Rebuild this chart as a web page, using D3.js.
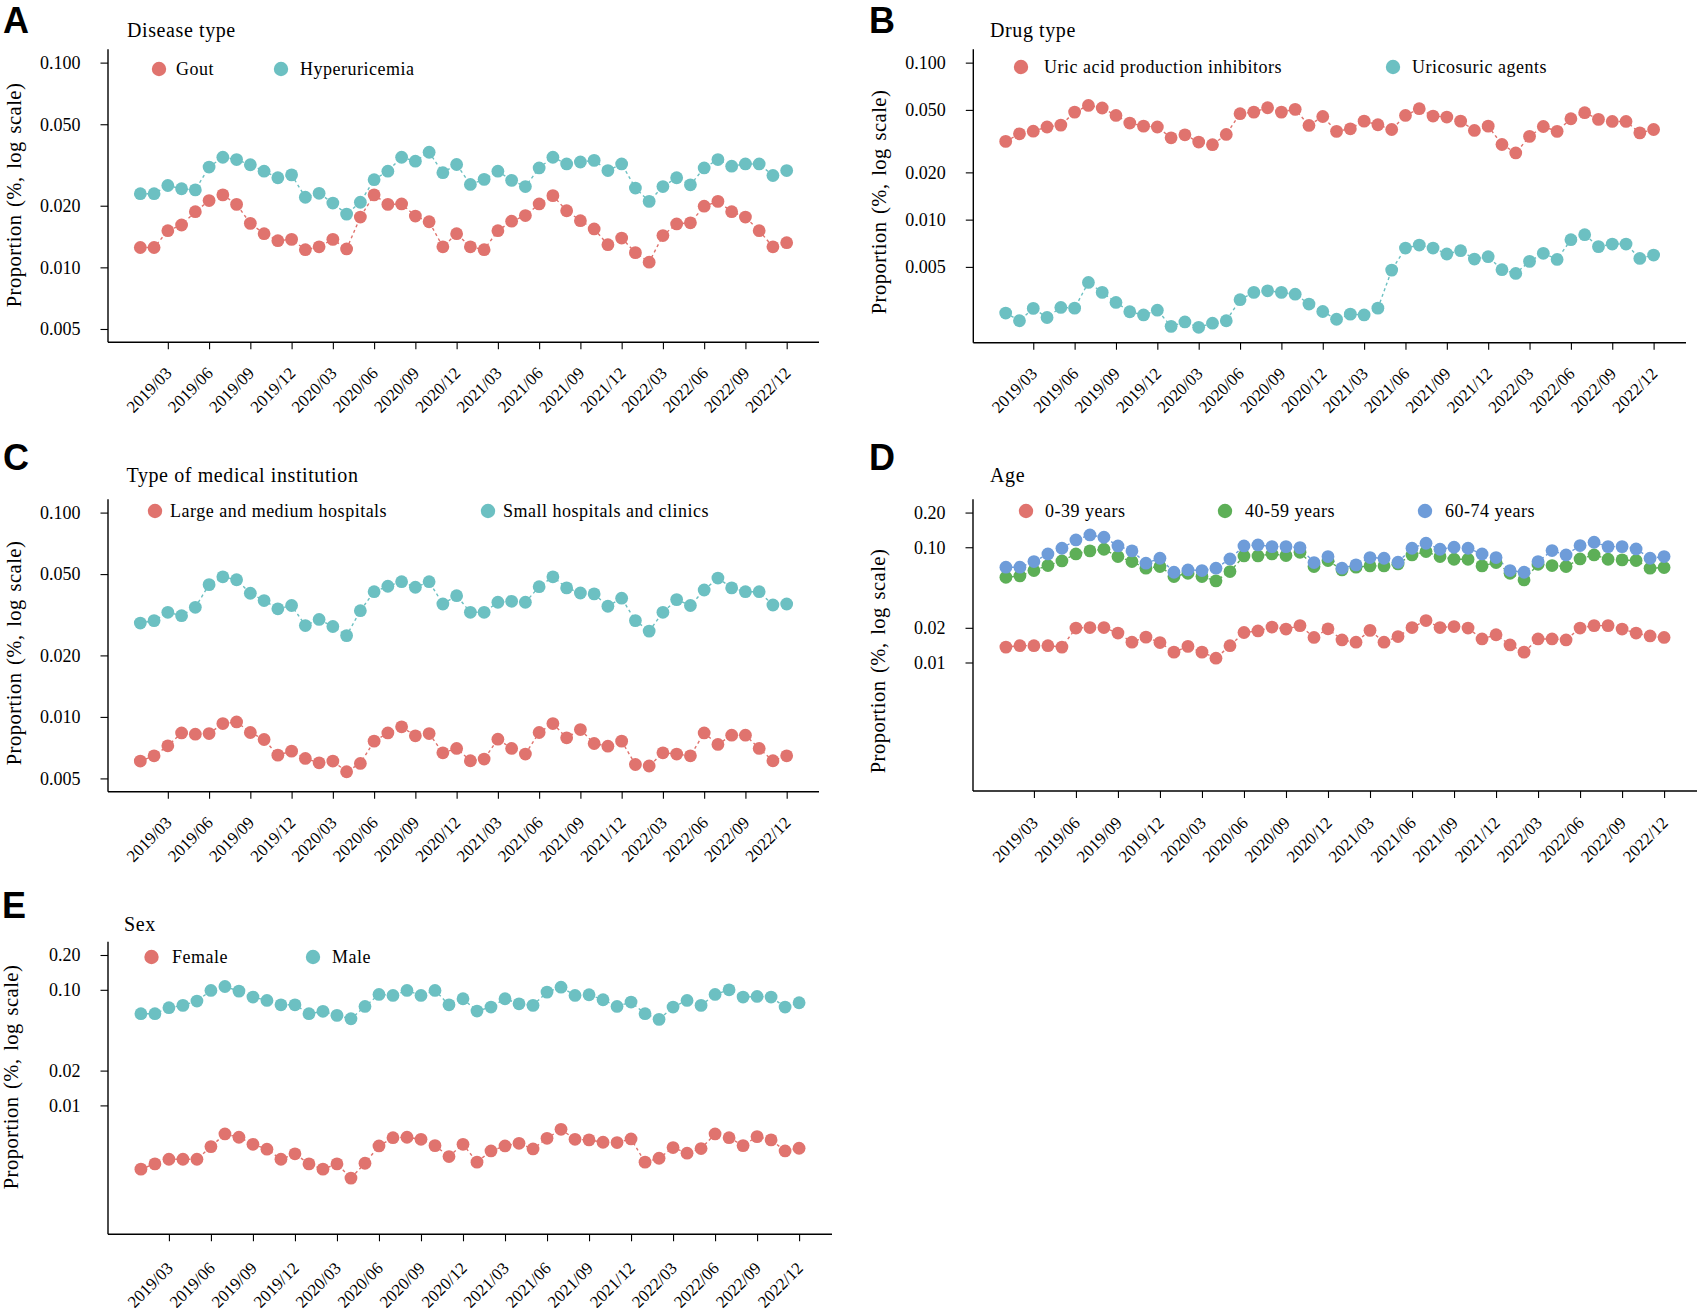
<!DOCTYPE html>
<html>
<head>
<meta charset="utf-8">
<script src="https://cdn.jsdelivr.net/npm/d3@7"></script>
<style>
  body { margin: 0; background: #ffffff; }
  svg text { font-family: "Liberation Serif", "Times New Roman", serif; fill: #000; }
</style>
</head>
<body>
<svg id="fig" width="1699" height="1313"></svg>
<script>
// Monthly series, 2019/01 .. 2022/12 (48 months)
const xTickLabels = ['2019/03', '2019/06', '2019/09', '2019/12', '2020/03', '2020/06', '2020/09', '2020/12',
  '2021/03', '2021/06', '2021/09', '2021/12', '2022/03', '2022/06', '2022/09', '2022/12'];

// A: disease type
const gout = [0.0125,0.0125,0.0151,0.0161,0.0187,0.0212,0.0226,0.0203,0.0164,0.0146,0.0135,0.0137,
  0.0122,0.0126,0.0137,0.0123,0.0176,0.0226,0.0203,0.0204,0.0178,0.0167,0.0126,0.0146,
  0.0126,0.0122,0.0151,0.0168,0.0179,0.0204,0.0224,0.0189,0.0169,0.0154,0.0129,0.0139,
  0.0118,0.0106,0.0143,0.0163,0.0165,0.0199,0.0210,0.0187,0.0176,0.0151,0.0126,0.0132];
const hyperuricemia = [0.0229,0.0229,0.0251,0.0242,0.0239,0.0309,0.0345,0.0336,0.0317,0.0295,0.0274,0.0283,
  0.0220,0.0230,0.0206,0.0182,0.0208,0.0268,0.0295,0.0345,0.0330,0.0365,0.0290,0.0318,
  0.0254,0.0269,0.0295,0.0266,0.0248,0.0306,0.0345,0.0320,0.0327,0.0333,0.0297,0.0320,
  0.0244,0.0210,0.0248,0.0274,0.0253,0.0306,0.0336,0.0312,0.0320,0.0320,0.0281,0.0297];

// B: drug type
const productionInhibitors = [0.0315,0.0352,0.0366,0.0389,0.0400,0.0484,0.0534,0.0514,0.0461,0.0412,0.0394,0.0389,
  0.0332,0.0347,0.0312,0.0300,0.0349,0.0473,0.0484,0.0516,0.0484,0.0504,0.0398,0.0454,
  0.0365,0.0379,0.0424,0.0402,0.0375,0.0461,0.0509,0.0457,0.0450,0.0424,0.0370,0.0394,
  0.0301,0.0266,0.0339,0.0392,0.0365,0.0439,0.0480,0.0435,0.0422,0.0422,0.0357,0.0375];
const uricosurics = [0.00254,0.00227,0.00272,0.00238,0.00276,0.00273,0.00398,0.00344,0.00297,0.00259,0.00247,0.00265,
  0.00209,0.00223,0.00206,0.00219,0.00227,0.00309,0.00344,0.00352,0.00344,0.00335,0.00290,0.00260,
  0.00232,0.00250,0.00247,0.00273,0.00477,0.00659,0.00689,0.00659,0.00604,0.00634,0.00561,0.00581,
  0.00480,0.00454,0.00542,0.00610,0.00558,0.00745,0.00802,0.00673,0.00699,0.00699,0.00566,0.00595];

// C: type of medical institution
const largeHospitals = [0.00608,0.00645,0.00722,0.00835,0.00823,0.00829,0.00928,0.00945,0.00839,0.00775,0.00650,0.00680,
  0.00626,0.00596,0.00608,0.00539,0.00592,0.00761,0.00835,0.00894,0.00808,0.00829,0.00667,0.00701,
  0.00610,0.00622,0.00778,0.00701,0.00658,0.00839,0.00928,0.00790,0.00867,0.00741,0.00719,0.00761,
  0.00585,0.00575,0.00667,0.00658,0.00645,0.00835,0.00733,0.00814,0.00814,0.00701,0.00610,0.00645];
const smallClinics = [0.0288,0.0296,0.0325,0.0313,0.0344,0.0444,0.0485,0.0469,0.0403,0.0371,0.0338,0.0351,
  0.0280,0.0300,0.0277,0.0250,0.0331,0.0410,0.0436,0.0459,0.0431,0.0459,0.0357,0.0392,
  0.0325,0.0325,0.0364,0.0368,0.0364,0.0434,0.0485,0.0428,0.0404,0.0400,0.0348,0.0381,
  0.0296,0.0263,0.0325,0.0375,0.0351,0.0418,0.0478,0.0428,0.0410,0.0410,0.0353,0.0357];

// D: age
const age0to39 = [0.0136,0.0140,0.0140,0.0140,0.0136,0.0199,0.0201,0.0201,0.0180,0.0150,0.0166,0.0149,
  0.0123,0.0138,0.0123,0.0109,0.0140,0.0182,0.0188,0.0203,0.0195,0.0209,0.0165,0.0196,
  0.0157,0.0150,0.0190,0.0150,0.0168,0.0201,0.0231,0.0201,0.0205,0.0199,0.0160,0.0174,
  0.0142,0.0123,0.0160,0.0160,0.0157,0.0199,0.0209,0.0209,0.0195,0.0180,0.0170,0.0165];
const age40to59 = [0.0549,0.0564,0.0628,0.0694,0.0761,0.0875,0.0930,0.0961,0.0830,0.0751,0.0658,0.0680,
  0.0557,0.0595,0.0557,0.0511,0.0615,0.0841,0.0841,0.0875,0.0847,0.0905,0.0680,0.0766,
  0.0636,0.0671,0.0689,0.0689,0.0717,0.0858,0.0917,0.0830,0.0787,0.0787,0.0689,0.0736,
  0.0595,0.0521,0.0712,0.0694,0.0680,0.0792,0.0858,0.0787,0.0777,0.0766,0.0658,0.0666];
const age60to74 = [0.0671,0.0671,0.0751,0.0875,0.0980,0.1158,0.1279,0.1221,0.1027,0.0930,0.0727,0.0803,
  0.0607,0.0636,0.0628,0.0658,0.0792,0.1027,0.1048,0.1013,0.1013,0.0993,0.0736,0.0830,
  0.0658,0.0703,0.0814,0.0803,0.0741,0.0980,0.1083,0.0961,0.1000,0.0980,0.0875,0.0814,
  0.0628,0.0607,0.0751,0.0936,0.0858,0.1034,0.1105,0.1013,0.1013,0.0967,0.0803,0.0830];

// E: sex
const female = [0.00281,0.00312,0.00342,0.00342,0.00342,0.00440,0.00566,0.00530,0.00461,0.00418,0.00342,0.00381,
  0.00312,0.00281,0.00312,0.00235,0.00316,0.00446,0.00526,0.00530,0.00509,0.00449,0.00361,0.00461,
  0.00323,0.00404,0.00446,0.00470,0.00420,0.00519,0.00621,0.00509,0.00503,0.00480,0.00477,0.00513,
  0.00323,0.00349,0.00432,0.00386,0.00423,0.00566,0.00526,0.00449,0.00537,0.00503,0.00404,0.00426];
const male = [0.0621,0.0621,0.0700,0.0733,0.0799,0.0987,0.1068,0.0974,0.0865,0.0809,0.0742,0.0742,
  0.0621,0.0651,0.0601,0.0562,0.0718,0.0912,0.0894,0.0987,0.0894,0.0987,0.0742,0.0837,
  0.0655,0.0709,0.0837,0.0757,0.0733,0.0955,0.1054,0.0894,0.0906,0.0820,0.0718,0.0783,
  0.0621,0.0555,0.0709,0.0809,0.0733,0.0912,0.1000,0.0865,0.0876,0.0865,0.0709,0.0773];

const yTicks3 = [0.005, 0.01, 0.02, 0.05, 0.1];
const yTicks2 = [0.01, 0.02, 0.1, 0.2];

const RED = '#E0736E', TEAL = '#6CC0C2', GREEN = '#5DAF57', BLUE = '#6E9CD9';

const panels = [
  { letter: 'A', lx: 3, ly: 33, title: 'Disease type', tx: 127, ty: 37,
    left: 108, right: 819, top: 49.3, bottom: 342.3, lim: [0.005, 0.1], ticks: yTicks3, fmt: '.3f',
    ylabX: 21, ylabY: 195, legY: 69, labDy: 32,
    series: [{ name: 'Gout', data: gout, color: RED, cx: 159, tx: 176 },
             { name: 'Hyperuricemia', data: hyperuricemia, color: TEAL, cx: 281, tx: 300 }] },
  { letter: 'B', lx: 869, ly: 32.5, title: 'Drug type', tx: 990, ty: 37,
    left: 973.3, right: 1686, top: 49.3, bottom: 342.7, lim: [0.002, 0.1], ticks: yTicks3, fmt: '.3f',
    ylabX: 886, ylabY: 202, legY: 67, labDy: 32,
    series: [{ name: 'Uric acid production inhibitors', data: productionInhibitors, color: RED, cx: 1021, tx: 1044 },
             { name: 'Uricosuric agents', data: uricosurics, color: TEAL, cx: 1393, tx: 1412 }] },
  { letter: 'C', lx: 3, ly: 470, title: 'Type of medical institution', tx: 126.5, ty: 481.5,
    left: 108, right: 819, top: 499.3, bottom: 791.7, lim: [0.005, 0.1], ticks: yTicks3, fmt: '.3f',
    ylabX: 21, ylabY: 653, legY: 511, labDy: 32,
    series: [{ name: 'Large and medium hospitals', data: largeHospitals, color: RED, cx: 155, tx: 170 },
             { name: 'Small hospitals and clinics', data: smallClinics, color: TEAL, cx: 488, tx: 503 }] },
  { letter: 'D', lx: 869, ly: 470, title: 'Age', tx: 990, ty: 481.5,
    left: 973, right: 1697, top: 499.3, bottom: 791, lim: [0.001, 0.2], ticks: yTicks2, fmt: '.2f',
    ylabX: 885, ylabY: 661, legY: 511, labDy: 33,
    series: [{ name: '0-39 years', data: age0to39, color: RED, cx: 1026, tx: 1045 },
             { name: '40-59 years', data: age40to59, color: GREEN, cx: 1225, tx: 1245 },
             { name: '60-74 years', data: age60to74, color: BLUE, cx: 1425, tx: 1445 }] },
  { letter: 'E', lx: 2, ly: 918, title: 'Sex', tx: 124, ty: 930.5,
    left: 108, right: 832, top: 941.7, bottom: 1234.3, lim: [0.001, 0.2], ticks: yTicks2, fmt: '.2f',
    ylabX: 18, ylabY: 1077, legY: 957, labDy: 35,
    series: [{ name: 'Female', data: female, color: RED, cx: 151.5, tx: 172 },
             { name: 'Male', data: male, color: TEAL, cx: 313, tx: 332 }] }
];

const svg = d3.select('#fig');
const nMonths = gout.length;
const monthIndex = lab => (+lab.slice(0, 4) - 2019) * 12 + (+lab.slice(5)) - 1;

panels.forEach(p => {
  const g = svg.append('g');

  // ggplot-like 5% expansion
  const xPad = (nMonths - 1) * 0.05;
  const x = d3.scaleLinear().domain([-xPad, nMonths - 1 + xPad]).range([p.left, p.right]);
  const l0 = Math.log10(p.lim[0]), l1 = Math.log10(p.lim[1]);
  const yPad = (l1 - l0) * 0.05;
  const y = d3.scaleLog().domain([Math.pow(10, l0 - yPad), Math.pow(10, l1 + yPad)])
    .range([p.bottom, p.top]);

  // panel letter and title
  g.append('text').text(p.letter)
    .attr('x', p.lx).attr('y', p.ly)
    .style('font-family', '"Liberation Sans", Arial, sans-serif')
    .style('font-weight', 'bold').style('font-size', '36px');
  g.append('text').text(p.title)
    .attr('x', p.tx).attr('y', p.ty)
    .style('font-size', '20px').style('letter-spacing', '0.6px');

  // axes
  const yAxis = g.append('g').attr('transform', `translate(${p.left},0)`)
    .call(d3.axisLeft(y).tickValues(p.ticks).tickFormat(d3.format(p.fmt)).tickSizeOuter(0).tickSize(7.5).tickPadding(20));
  const xAxis = g.append('g').attr('transform', `translate(0,${p.bottom})`)
    .call(d3.axisBottom(x).tickValues(xTickLabels.map(monthIndex)).tickFormat('').tickSizeOuter(0).tickSize(7));
  [yAxis, xAxis].forEach(a => {
    a.select('.domain').attr('stroke', '#000').attr('stroke-width', 1.4);
    a.selectAll('.tick line').attr('stroke', '#000').attr('stroke-width', 1.1);
  });
  // full-length axis lines
  yAxis.select('.domain').attr('d', `M0,${p.top}V${p.bottom}`);
  xAxis.select('.domain').attr('d', `M${p.left},0H${p.right}`);
  yAxis.selectAll('.tick text')
    .style('font-family', '"Liberation Serif", serif').style('font-size', '18px');

  g.selectAll('.xlab').data(xTickLabels).join('text')
    .attr('class', 'xlab')
    .attr('text-anchor', 'end')
    .attr('transform', d => `translate(${x(monthIndex(d)) + 5},${p.bottom + p.labDy}) rotate(-45)`)
    .style('font-size', '17px')
    .text(d => d);

  // y label
  g.append('text').text('Proportion (%, log scale)')
    .attr('text-anchor', 'middle')
    .attr('transform', `translate(${p.ylabX},${p.ylabY}) rotate(-90)`)
    .style('font-size', '20.5px').style('letter-spacing', '0.5px').style('word-spacing', '2px');

  // dashed connecting lines
  const line = d3.line().x((d, i) => x(i)).y(d => y(d));
  p.series.forEach(s => {
    g.append('path').datum(s.data)
      .attr('d', line)
      .attr('fill', 'none')
      .attr('stroke', s.color)
      .attr('stroke-width', 1.4)
      .attr('stroke-dasharray', '3,3');
  });
  p.series.forEach(s => {
    g.append('g').selectAll('circle').data(s.data).join('circle')
      .attr('cx', (d, i) => x(i))
      .attr('cy', d => y(d))
      .attr('r', 6.4)
      .attr('fill', s.color);
  });

  // legend
  p.series.forEach(s => {
    g.append('circle').attr('cx', s.cx).attr('cy', p.legY).attr('r', 7.2).attr('fill', s.color);
    g.append('text').text(s.name)
      .attr('x', s.tx).attr('y', p.legY + 5.5)
      .style('font-size', '18px').style('letter-spacing', '0.5px');
  });
});
</script>
</body>
</html>
